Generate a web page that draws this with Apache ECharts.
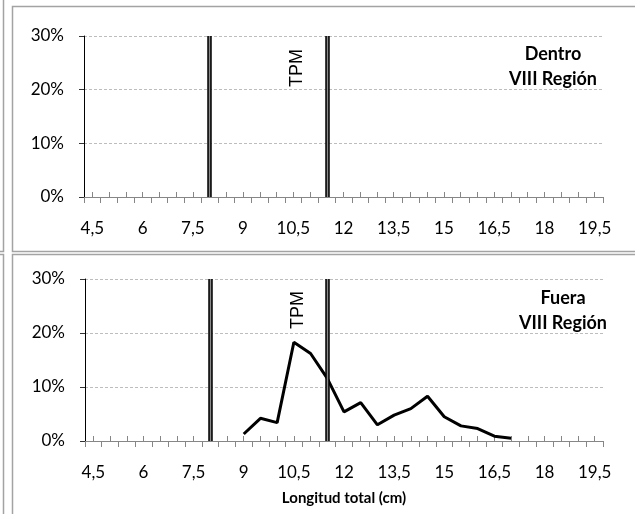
<!DOCTYPE html>
<html>
<head>
<meta charset="utf-8">
<script src="https://cdn.jsdelivr.net/npm/echarts@6/dist/echarts.min.js"></script>
<style>
html,body{margin:0;padding:0;background:#fff;}
#c{width:635px;height:514px;}
</style>
</head>
<body>
<div id="c"></div>
<script>
// Categories: total length (cm), 0.5 cm classes
const categories = ['4,5','5','5,5','6','6,5','7','7,5','8','8,5','9','9,5','10','10,5','11','11,5','12','12,5','13','13,5','14','14,5','15','15,5','16','16,5','17','17,5','18','18,5','19','19,5'];
// Dentro VIII Región: no data shown
const dentro = [];
// Fuera VIII Región (% frequency)
const fuera = [null,null,null,null,null,null,null,null,null,1.3,4.2,3.4,18.3,16.2,11.6,5.4,7.1,3.0,4.8,6.0,8.3,4.5,2.8,2.3,0.9,0.5,null,null,null,null,null];
// Reference lines (category labels)
const refLines = ['8','11,5'];
const yTicks = [0,10,20,30];

const FONT = 'Lato';
const chart = echarts.init(document.getElementById('c'), null, {renderer:'canvas'});

const grids = [
  {left:84, right:32, top:36, height:161},
  {left:85, right:32, top:279, height:162}
];

function xMain(gi){
  return {
    type:'category', gridIndex:gi, data:categories, boundaryGap:true, position:'bottom',
    axisLine:{show:true, lineStyle:{color:'#868686', width:1}},
    axisTick:{show:true, interval:0, length:6, inside:false, lineStyle:{color:'#868686'}},
    axisLabel:{interval:2, margin:23, color:'#000', fontFamily:FONT, fontSize:17},
    splitLine:{show:false}
  };
}
function xMinor(gi){
  return {
    type:'category', gridIndex:gi, data:categories, boundaryGap:true, position:'bottom',
    axisLine:{show:false},
    axisTick:{show:true, interval:0, alignWithLabel:true, inside:true, length:5, lineStyle:{color:'#868686'}},
    axisLabel:{show:false}, splitLine:{show:false}
  };
}
function yAx(gi){
  return {
    type:'value', gridIndex:gi, min:yTicks[0], max:yTicks[yTicks.length-1], interval:10,
    axisLine:{show:true, lineStyle:{color:'#000', width:1}},
    axisTick:{show:true, length:5, lineStyle:{color:'#333'}},
    axisLabel:{formatter:'{value}%', margin:20, color:'#000', fontFamily:FONT, fontSize:17},
    splitLine:{show:true, lineStyle:{color:'#bdbdbd', type:[3,2], width:1}}
  };
}

function refSeries(xi, yi, color, width, z){
  return {
    type:'line', xAxisIndex:xi, yAxisIndex:yi, data:[], z:z, silent:true,
    markLine:{symbol:'none', silent:true, animation:false, label:{show:false},
      lineStyle:{color:color, width:width, type:'solid'},
      data: refLines.map(c => ({xAxis:c}))}
  };
}

const option = {
  animation:false,
  backgroundColor:'#fff',
  grid: grids,
  xAxis: [xMain(0), xMinor(0), xMain(1), xMinor(1)],
  yAxis: [yAx(0), yAx(1)],
  series: [
    {type:'line', xAxisIndex:0, yAxisIndex:0, data:dentro, showSymbol:false, lineStyle:{color:'#000', width:3}},
    refSeries(0,0,'#000',4.5,5),
    refSeries(0,0,'#8a8a8a',1.4,6),
    {type:'line', xAxisIndex:2, yAxisIndex:1, data:fuera, showSymbol:false, connectNulls:false,
      lineStyle:{color:'#000', width:3}, z:4},
    refSeries(2,1,'#000',4.5,5),
    refSeries(2,1,'#8a8a8a',1.4,6)
  ],
  graphic: [
    {type:'rect', shape:{x:12.5, y:6.5, width:640, height:245}, style:{fill:'none', stroke:'#a3a3a3', lineWidth:1.5}, silent:true},
    {type:'rect', shape:{x:12.5, y:254.5, width:640, height:280}, style:{fill:'none', stroke:'#a3a3a3', lineWidth:1.5}, silent:true},
    {type:'rect', shape:{x:-30, y:-30, width:33.5, height:281.5}, style:{fill:'none', stroke:'#a3a3a3', lineWidth:1.5}, silent:true},
    {type:'rect', shape:{x:-30, y:254.5, width:33.5, height:290}, style:{fill:'none', stroke:'#a3a3a3', lineWidth:1.5}, silent:true},
    {type:'text', x:553, y:54, style:{text:'Dentro', font:'bold 18px Lato', fill:'#000', textAlign:'center', textVerticalAlign:'middle'}},
    {type:'text', x:553, y:79, style:{text:'VIII Región', font:'bold 18px Lato', fill:'#000', textAlign:'center', textVerticalAlign:'middle'}},
    {type:'text', x:563, y:298, style:{text:'Fuera', font:'bold 18px Lato', fill:'#000', textAlign:'center', textVerticalAlign:'middle'}},
    {type:'text', x:563, y:323, style:{text:'VIII Región', font:'bold 18px Lato', fill:'#000', textAlign:'center', textVerticalAlign:'middle'}},
    {type:'text', x:297, y:68, rotation:Math.PI/2, style:{text:'TPM', font:'18px "Liberation Sans"', fill:'#000', textAlign:'center', textVerticalAlign:'middle'}},
    {type:'text', x:298, y:310, rotation:Math.PI/2, style:{text:'TPM', font:'18px "Liberation Sans"', fill:'#000', textAlign:'center', textVerticalAlign:'middle'}},
    {type:'text', x:344, y:498, style:{text:'Longitud total (cm)', font:'bold 15px Lato', fill:'#000', textAlign:'center', textVerticalAlign:'middle'}}
  ]
};
chart.setOption(option);
</script>
</body>
</html>
